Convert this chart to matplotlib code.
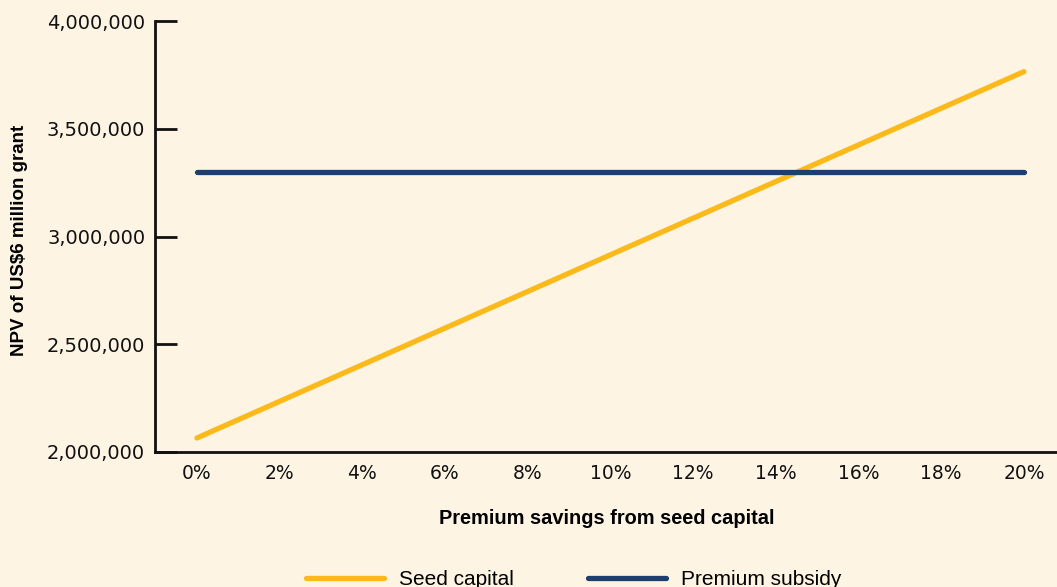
import matplotlib.pyplot as plt
from matplotlib.ticker import FuncFormatter

# data
savings = [0, 2, 4, 6, 8, 10, 12, 14, 16, 18, 20]
seed_capital = [2065000, 2235000, 2405000, 2575000, 2745000, 2915000,
                3085000, 3255000, 3425000, 3595000, 3765000]
premium_subsidy = [3300000] * 11
y_ticks = [2000000, 2500000, 3000000, 3500000, 4000000]

bg = '#FDF4E4'
yellow = '#FBB91A'
blue = '#1E3F6E'

plt.rcParams['font.family'] = ['DejaVu Sans']

fig = plt.figure(figsize=(10.57, 5.87), dpi=100, facecolor=bg)
ax = fig.add_axes([0.1466, 0.2300, 0.8534, 0.7342], facecolor=bg)

ax.plot(savings, seed_capital, color=yellow, lw=3.8, solid_capstyle='round',
        label='Seed capital')
ax.plot(savings, premium_subsidy, color=blue, lw=3.8, solid_capstyle='round',
        label='Premium subsidy')

ax.set_xlim(-1.016, 20.8)
ax.set_ylim(2000000, 4000000)
ax.set_xticks(savings)
ax.set_xticklabels([f'{s}%' for s in savings])
ax.set_yticks(y_ticks)
ax.yaxis.set_major_formatter(FuncFormatter(lambda v, p: f'{int(v):,}'))

for s in ['top', 'right']:
    ax.spines[s].set_visible(False)
for s in ['left', 'bottom']:
    ax.spines[s].set_linewidth(2.0)
    ax.spines[s].set_color('#111111')

ax.tick_params(axis='y', direction='in', length=16, width=2.0, pad=7,
               labelsize=14, colors='#111111')
ax.tick_params(axis='x', length=0, pad=9, labelsize=13.5, colors='#111111')

ax.set_ylabel('NPV of US$6 million grant', fontsize=13.5, fontweight='bold',
              family='Liberation Sans')
ax.yaxis.set_label_coords(-0.1408, 0.49)
ax.set_xlabel('Premium savings from seed capital', fontsize=14.4,
              fontweight='bold', family='Liberation Sans')
ax.xaxis.set_label_coords(0.501, -0.133)

fig.legend(loc='center', bbox_to_anchor=(0.5426, 0.013), ncol=2, frameon=False,
           prop={'family': 'Liberation Sans', 'size': 15},
           handlelength=3.75, handletextpad=0.72, columnspacing=3.55)

fig.savefig('out.png', dpi=100, facecolor=bg)
